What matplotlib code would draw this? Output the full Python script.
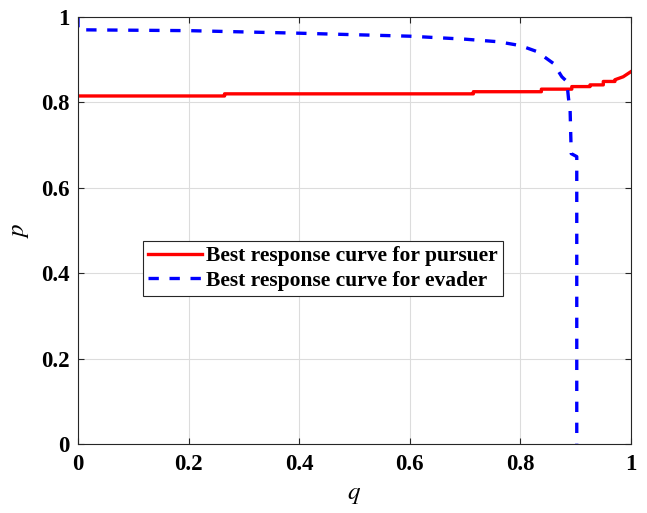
import matplotlib
matplotlib.use('Agg')
import matplotlib.pyplot as plt

# best response curve for pursuer (red)
q_pursuer = [0.0, 0.265, 0.265, 0.715, 0.715, 0.838, 0.838, 0.893, 0.893, 0.926, 0.926,
             0.95, 0.95, 0.971, 0.971, 0.986, 1.0]
p_pursuer = [0.815, 0.815, 0.82, 0.82, 0.825, 0.825, 0.831, 0.831, 0.837, 0.837, 0.841,
             0.841, 0.849, 0.849, 0.853, 0.86, 0.872]

# best response curve for evader (blue dashed)
q_evader = [0.0, 0.0, 0.2, 0.4, 0.6, 0.7, 0.76, 0.8, 0.83, 0.86, 0.875, 0.884, 0.887,
            0.89, 0.892, 0.902, 0.902]
p_evader = [1.0, 0.97, 0.968, 0.962, 0.955, 0.948, 0.942, 0.933, 0.919, 0.891, 0.86,
            0.849, 0.81, 0.78, 0.68, 0.673, 0.0]

ticks = [0, 0.2, 0.4, 0.6, 0.8, 1]
tick_labels = ['0', '0.2', '0.4', '0.6', '0.8', '1']

plt.rcParams['font.family'] = ['Liberation Serif', 'DejaVu Serif']
plt.rcParams['mathtext.fontset'] = 'stix'

fig = plt.figure(figsize=(6.47, 5.13), dpi=100)
ax = fig.add_axes([0.1206, 0.1345, 0.8546, 0.8324])

ax.plot(q_pursuer, p_pursuer, color='red', lw=2.4, label='Best response curve for pursuer')
ax.plot(q_evader, p_evader, color='blue', lw=2.4, ls=(0, (3.1, 3.2)),
        label='Best response curve for evader')

ax.set_xlim(0, 1)
ax.set_ylim(0, 1)
ax.set_xticks(ticks)
ax.set_yticks(ticks)
ax.set_xticklabels(tick_labels)
ax.set_yticklabels(tick_labels)
for lab in ax.get_xticklabels() + ax.get_yticklabels():
    lab.set_fontweight('bold')
    lab.set_fontsize(16.5)
ax.tick_params(direction='in', top=True, right=True, length=4.5, width=0.8, color='#262626')
ax.tick_params(axis='x', pad=7)
ax.tick_params(axis='y', pad=6)
ax.grid(True, color='#dcdcdc', lw=0.8)
for s in ax.spines.values():
    s.set_color('#262626')
    s.set_linewidth(0.8)

ax.set_xlabel('$q$', fontsize=18, labelpad=7)
ax.set_ylabel('$p$', fontsize=18, labelpad=7)

leg = ax.legend(loc='upper left', bbox_to_anchor=(0.117, 0.476), prop={'weight': 'bold', 'size': 15.5},
                fancybox=False, edgecolor='#262626', framealpha=1, handlelength=2.5,
                handletextpad=0.2, borderpad=0.25, labelspacing=0.2, borderaxespad=0)
leg.get_frame().set_linewidth(0.8)

fig.savefig('out.png', dpi=100)
